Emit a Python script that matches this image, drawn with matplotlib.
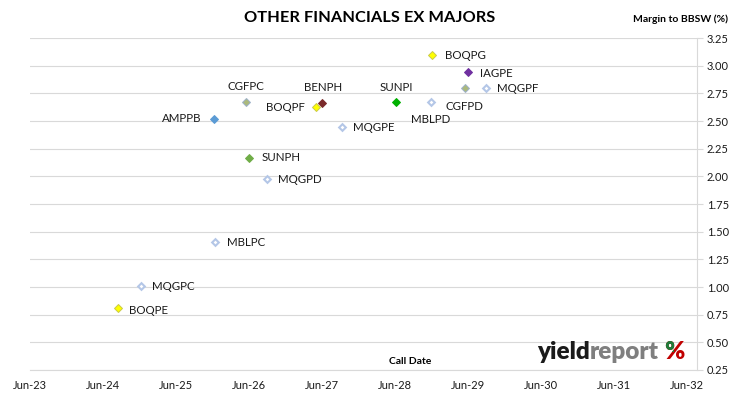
import matplotlib
matplotlib.use("Agg")
import matplotlib.pyplot as plt
import matplotlib.dates as mdates
from matplotlib.patches import Rectangle
import pandas as pd

# ---- data ----
names = ["BOQPE", "MQGPC", "MBLPC", "MQGPD", "SUNPH", "AMPPB", "CGFPC", "BOQPF",
         "BENPH", "MQGPE", "SUNPI", "MBLPD", "CGFPD", "BOQPG", "IAGPE", "MQGPF"]
call_dates = ["2024-08-15", "2024-12-07", "2025-12-12", "2026-09-01", "2026-06-01",
              "2025-12-08", "2026-05-15", "2027-05-01", "2027-06-01", "2027-09-07",
              "2028-06-05", "2028-11-27", "2029-05-15", "2028-12-01", "2029-06-01",
              "2029-09-01"]
margins = [0.81, 1.01, 1.41, 1.98, 2.17, 2.52, 2.67, 2.63,
           2.66, 2.45, 2.67, 2.67, 2.80, 3.10, 2.94, 2.80]
x_tick_labels = ["Jun-23", "Jun-24", "Jun-25", "Jun-26", "Jun-27",
                 "Jun-28", "Jun-29", "Jun-30", "Jun-31", "Jun-32"]
y_ticks = [0.25, 0.50, 0.75, 1.00, 1.25, 1.50, 1.75, 2.00, 2.25, 2.50, 2.75, 3.00, 3.25]

# ---- styles ----
BOQ = dict(mfc="#FFFF00", mec="#C9C94A")
MQ = dict(mfc="white", mec="#B4C7E7")
CGF = dict(mfc="#ABB97C", mec="#9EB2CC")
styles = {
    "BOQPE": BOQ, "BOQPF": BOQ, "BOQPG": BOQ,
    "MQGPC": MQ, "MQGPD": MQ, "MQGPE": MQ, "MQGPF": MQ, "MBLPC": MQ, "MBLPD": MQ,
    "CGFPC": CGF, "CGFPD": CGF,
    "AMPPB": dict(mfc="#5B9BD5", mec="#5B9BD5"),
    "SUNPH": dict(mfc="#70AD47", mec="#70AD47"),
    "SUNPI": dict(mfc="#00B000", mec="#00B000"),
    "BENPH": dict(mfc="#7B2A2A", mec="#7B2A2A"),
    "IAGPE": dict(mfc="#7030A0", mec="#7030A0"),
}
# label offsets in pixels (dx, dy, ha)
offsets = {
    "BOQPE": (11, -2, "left"), "MQGPC": (11, -1, "left"), "MBLPC": (12, -1, "left"),
    "MQGPD": (11, -1, "left"), "SUNPH": (13, 0, "left"), "AMPPB": (-13, 0, "right"),
    "CGFPC": (0, 16, "center"), "BOQPF": (-11, -1, "right"), "BENPH": (1, 16, "center"),
    "MQGPE": (11, -1, "left"), "SUNPI": (0, 15, "center"), "MBLPD": (0, -17, "center"),
    "CGFPD": (0, -19, "center"), "BOQPG": (13, -1, "left"), "IAGPE": (12, -1, "left"),
    "MQGPF": (11, -1, "left"),
}

FONT = ["Lato", "DejaVu Sans"]
plt.rcParams["font.family"] = FONT

fig = plt.figure(figsize=(7.30, 3.99), dpi=100)
ax = fig.add_axes([30 / 730, (399 - 370) / 399, (697 - 30) / 730, (370 - 38) / 399])

dates = pd.to_datetime(call_dates)
for n, d, m in zip(names, dates, margins):
    st = styles[n]
    ms = 3.4 if st is MQ else 3.7
    mew = 1.5 if st is MQ else 0.7
    ax.plot([d], [m], linestyle="none", marker="D", markersize=ms,
            markeredgewidth=mew, zorder=3, **st)
    dx, dy, ha = offsets[n]
    ax.annotate(n, (d, m), xytext=(dx, dy), textcoords="offset pixels",
                ha=ha, va="center", fontsize=8.3, color="#1a1a1a", zorder=4)

tick_dates = pd.to_datetime(["20" + t[4:] + "-06-01" for t in x_tick_labels])
ax.set_xticks(tick_dates)
ax.set_xticklabels(x_tick_labels)
x0 = mdates.date2num(tick_dates[0])
x9 = mdates.date2num(tick_dates[-1])
ax.set_xlim(x0, x9 + (x9 - x0) * 10 / 657)
ax.set_ylim(0.25, 3.25)
ax.set_yticks(y_ticks)
ax.set_yticklabels([f"{v:.2f}" for v in y_ticks])
ax.yaxis.tick_right()
ax.tick_params(axis="y", length=4, color="#D9D9D9", labelsize=8, pad=3, labelcolor="#1a1a1a")
ax.tick_params(axis="x", length=0, labelsize=8, pad=7, labelcolor="#1a1a1a")
ax.grid(axis="y", color="#D9D9D9", linewidth=0.8)
ax.set_axisbelow(True)
for s in ["left", "top"]:
    ax.spines[s].set_visible(False)
for s in ["right", "bottom"]:
    ax.spines[s].set_color("#D9D9D9")
    ax.spines[s].set_linewidth(0.8)

fig.text(370 / 730, 1 - 18 / 399, "OTHER FINANCIALS EX MAJORS", ha="center", va="center",
         fontsize=11.8, fontweight="bold", color="black")
fig.text(728 / 730, 1 - 19 / 399, "Margin to BBSW (%)", ha="right", va="center",
         fontsize=7.5, fontweight="bold", color="black")
fig.text(410 / 730, 1 - 362 / 399, "Call Date", ha="center", va="center",
         fontsize=7.5, fontweight="bold", color="black")

# logo
renderer = fig.canvas.get_renderer()
x = 537 / 730
yl = 1 - 359 / 399
LS = 17.5
t1 = fig.text(x, yl, "yield", ha="left", va="baseline", fontsize=LS,
              fontweight="heavy", color="#1a1a1a")
w1 = t1.get_window_extent(renderer).width / fig.bbox.width
t2 = fig.text(x + w1, yl, "report", ha="left", va="baseline", fontsize=LS,
              fontweight="heavy", color="#7f7f7f")
w2 = t2.get_window_extent(renderer).width / fig.bbox.width
xp = x + w1 + w2 + 5 / 730
tp = fig.text(xp, yl, "%", ha="left", va="baseline", fontsize=LS,
              fontweight="heavy", color="#C00000")
bb = tp.get_window_extent(renderer)
tg = fig.text(xp, yl, "%", ha="left", va="baseline", fontsize=LS,
              fontweight="heavy", color="#1E7B3A")
clip = Rectangle((bb.x0 - 2, bb.y0 + bb.height * 0.5), bb.width * 0.62, bb.height,
                 transform=None)
tg.set_clip_path(clip)

fig.savefig("out.png", dpi=100)
